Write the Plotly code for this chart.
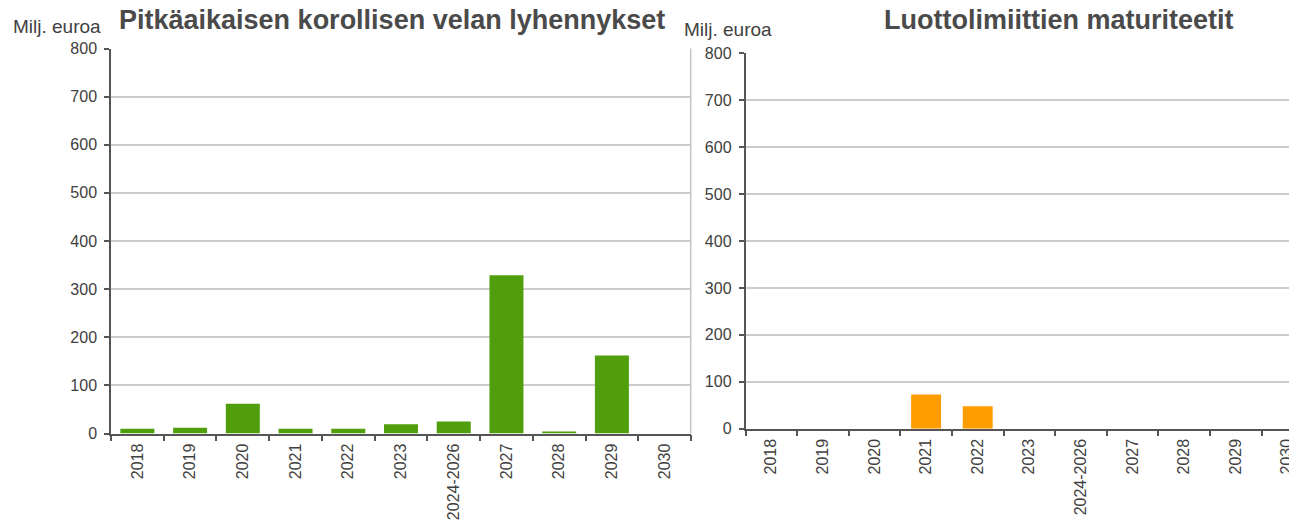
import plotly.graph_objects as go

# Tiedot luettu kuvasta (milj. euroa)
vuodet = ["2018", "2019", "2020", "2021", "2022", "2023", "2024-2026",
          "2027", "2028", "2029", "2030"]
lyhennykset = [10, 12, 62, 10, 10, 19, 25, 329, 4, 162, 0]
luottolimiitit = [0, 0, 0, 73, 48, 0, 0, 0, 0, 0, 0]
y_ticks = [0, 100, 200, 300, 400, 500, 600, 700, 800]

VIHREA = "#509e0c"
ORANSSI = "#ff9c00"
TEKSTI = "#404040"
OTSIKKO = "#4a4a4a"
AKSELI = "#555555"
RUUDUKKO = "#cccccc"
FONTTI = "Liberation Sans, Arial, sans-serif"

# sivun oma reunus siirtää kuvaa n. 8 px, joten koordinaatit korjataan
OFF = 8
W, H = 1289, 517


def px_x(a, b):
    return [(a - OFF) / W, min((b - OFF) / W, 1)]


def px_y(top, bottom):
    return [1 - (bottom - OFF) / H, 1 - (top - OFF) / H]


def kx(x):
    return (x - OFF) / W


def ky(y):
    return 1 - (y - OFF) / H


fig = go.Figure()
fig.add_trace(go.Bar(x=vuodet, y=lyhennykset, marker_color=VIHREA,
                     marker_line_width=0, width=0.645,
                     xaxis="x", yaxis="y", showlegend=False))
fig.add_trace(go.Bar(x=vuodet, y=luottolimiitit, marker_color=ORANSSI,
                     marker_line_width=0, width=0.58,
                     xaxis="x2", yaxis="y2", showlegend=False))

xa = dict(type="category", showline=True, linecolor=AKSELI, linewidth=1.5,
          ticks="outside", tickson="boundaries", ticklen=6, tickwidth=1.5,
          tickcolor=AKSELI, tickangle=-90, ticklabelstandoff=2,
          tickfont=dict(size=16, color=TEKSTI), showgrid=False,
          zeroline=False, automargin=False, fixedrange=True,
          ticklabeloverflow="allow")
ya = dict(range=[0, 800], tickvals=y_ticks, showline=True, linecolor=AKSELI,
          linewidth=1.5, ticks="outside", ticklen=5, tickwidth=1.5,
          tickcolor=AKSELI, ticklabelstandoff=4,
          tickfont=dict(size=16, color=TEKSTI), gridcolor=RUUDUKKO,
          gridwidth=1.5, zeroline=False, automargin=False, fixedrange=True)

# oikea kuvaaja jatkuu kuvan reunan yli: luokkaväli 51.6 px
oikea_alku, oikea_loppu, luokka_px = 745.5, OFF + W, 51.6
oikea_range = [-0.5, -0.5 + (oikea_loppu - oikea_alku) / luokka_px]

fig.update_layout(
    width=W, height=H,
    margin=dict(l=0, r=0, t=0, b=0, pad=0),
    paper_bgcolor="white", plot_bgcolor="white",
    font=dict(family=FONTTI, color=TEKSTI),
    bargap=0.35,
    xaxis=dict(xa, domain=px_x(111, 691), anchor="y"),
    yaxis=dict(ya, domain=px_y(48.5, 433.5), anchor="x"),
    xaxis2=dict(xa, domain=px_x(oikea_alku, oikea_loppu), anchor="y2",
                range=oikea_range),
    yaxis2=dict(ya, domain=px_y(53.3, 428.7), anchor="x2"),
)

# Vasemman kuvaajan kehys oikealla
fig.add_shape(type="line", xref="paper", yref="paper",
              x0=kx(690.7), x1=kx(690.7), y0=ky(433.5), y1=ky(48.5),
              line=dict(color="#c4c4c4", width=1.5))

fig.add_annotation(text="<b>Pitkäaikaisen korollisen velan lyhennykset</b>",
                   xref="paper", yref="paper", x=kx(391.5), y=ky(20),
                   xanchor="center", yanchor="middle", showarrow=False,
                   font=dict(size=27, color=OTSIKKO))
fig.add_annotation(text="<b>Luottolimiittien maturiteetit</b>",
                   xref="paper", yref="paper", x=kx(1058.5), y=ky(20),
                   xanchor="center", yanchor="middle", showarrow=False,
                   font=dict(size=27, color=OTSIKKO))
fig.add_annotation(text="Milj. euroa", xref="paper", yref="paper",
                   x=kx(11), y=ky(26), xanchor="left", yanchor="middle",
                   showarrow=False, font=dict(size=19, color=TEKSTI))
fig.add_annotation(text="Milj. euroa", xref="paper", yref="paper",
                   x=kx(682), y=ky(30), xanchor="left", yanchor="middle",
                   showarrow=False, font=dict(size=19, color=TEKSTI))

fig.write_html("out.html")
